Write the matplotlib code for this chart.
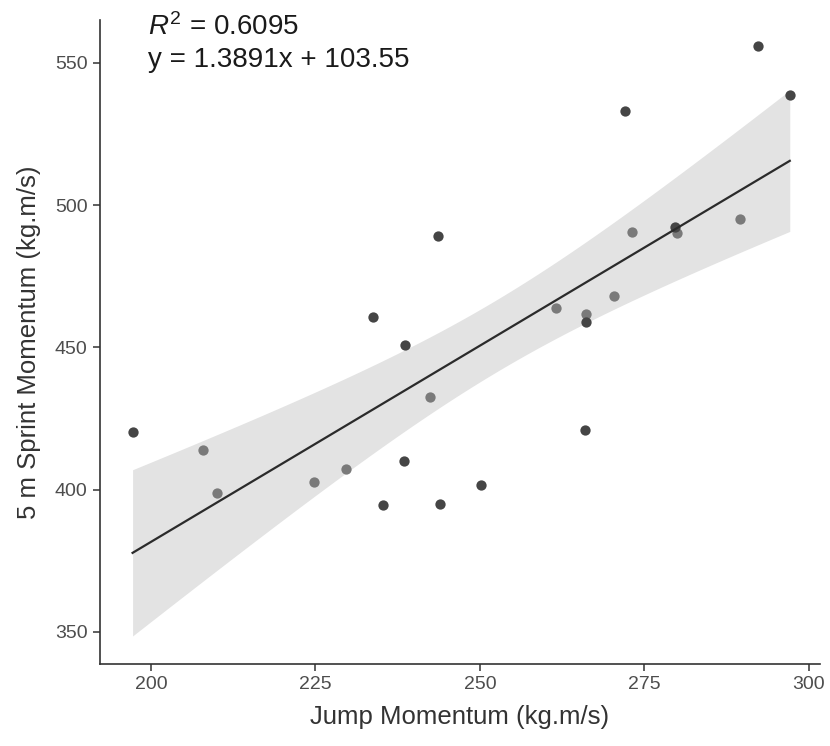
import numpy as np
import matplotlib
matplotlib.use("Agg")
import matplotlib.pyplot as plt

plt.rcParams['font.family'] = ['Liberation Sans', 'DejaVu Sans']
plt.rcParams['mathtext.fontset'] = 'custom'
plt.rcParams['mathtext.rm'] = 'Liberation Sans'
plt.rcParams['mathtext.it'] = 'Liberation Sans:italic'

# jump momentum (x) and 5 m sprint momentum (y), two groups
jump_dark = [197.2, 238.4, 235.3, 244.0, 250.2, 243.6, 233.8, 238.6,
             292.3, 297.1, 272.1, 279.6, 266.1, 266.0]
sprint_dark = [420.4, 410.2, 394.7, 395.0, 401.6, 489.3, 460.5, 450.9,
               556.0, 538.8, 532.9, 492.3, 458.9, 421.0]
jump_light = [207.9, 210.0, 224.8, 229.7, 242.4, 273.1, 280.0, 289.5,
              270.4, 261.5, 266.1]
sprint_light = [414.0, 398.8, 402.7, 407.4, 432.5, 490.5, 490.2, 495.0,
                468.2, 463.8, 461.8]

r2_text = r"$\mathit{R}^2$ = 0.6095"
eq_text = "y = 1.3891x + 103.55"

x = np.array(jump_dark + jump_light)
y = np.array(sprint_dark + sprint_light)

# linear fit with 95% confidence band
n = len(x)
slope, icpt = np.polyfit(x, y, 1)
resid = y - (slope * x + icpt)
s = np.sqrt(np.sum(resid ** 2) / (n - 2))
t_crit = 2.069  # t(0.975, df=23)
xs = np.linspace(x.min(), x.max(), 100)
ys = slope * xs + icpt
se = s * np.sqrt(1 / n + (xs - x.mean()) ** 2 / np.sum((x - x.mean()) ** 2))

fig = plt.figure(figsize=(8.3, 7.46), dpi=100)
ax = fig.add_axes([0.1205, 0.110, 0.8675, 0.863])

ax.fill_between(xs, ys - t_crit * se, ys + t_crit * se, color='#e3e3e3', lw=0, zorder=1)
ax.plot(xs, ys, color='#2b2b2b', lw=1.6, zorder=3)
ax.scatter(jump_light, sprint_light, s=55, color='#7a7a7a', lw=0, zorder=2)
ax.scatter(jump_dark, sprint_dark, s=55, color='#454545', lw=0, zorder=2)

ax.text(199.5, 559.8, r2_text, fontsize=20, color='#1a1a1a', va='baseline')
ax.text(199.5, 548.7, eq_text, fontsize=20, color='#1a1a1a', va='baseline')

ax.set_xlim(192.25, 301.7)
ax.set_ylim(338.75, 565)
ax.set_xticks([200, 225, 250, 275, 300])
ax.set_yticks([350, 400, 450, 500, 550])

for side in ['top', 'right']:
    ax.spines[side].set_visible(False)
for side in ['left', 'bottom']:
    ax.spines[side].set_color('#333333')
    ax.spines[side].set_linewidth(1.2)
ax.tick_params(length=5, width=1.1, color='#333333', labelcolor='#4d4d4d',
               labelsize=14, pad=4)

ax.set_xlabel("Jump Momentum (kg.m/s)", fontsize=18.5, color='#333333', labelpad=8)
ax.set_ylabel("5 m Sprint Momentum (kg.m/s)", fontsize=18.5, color='#333333', labelpad=10)

fig.savefig("out.png", dpi=100)
